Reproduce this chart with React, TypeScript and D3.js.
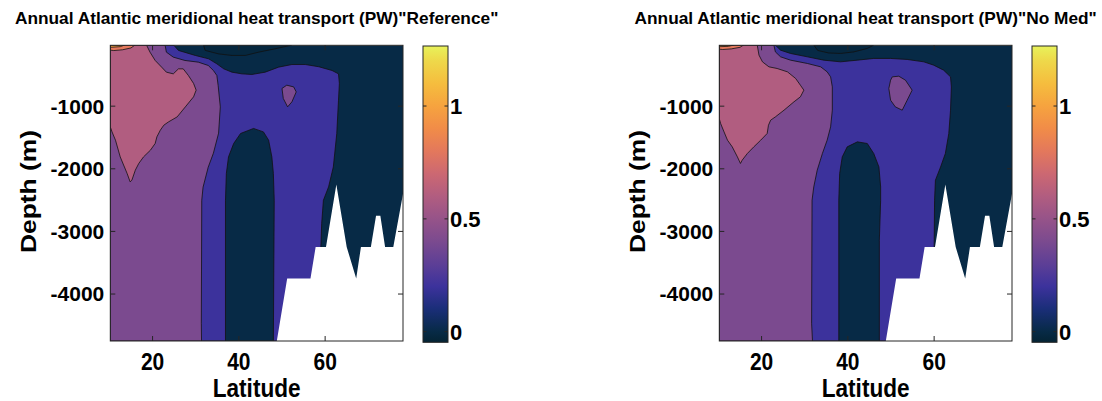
import React from 'react';
import * as d3 from 'd3';

type P = [number, number];

// ---- axis / label data ----
const latTicks = [20, 40, 60];
const depthTicks = [-1000, -2000, -3000, -4000];
const cbTicks = [0, 0.5, 1];
const cbTickLabels = ['0', '0.5', '1'];
const latDomain: P = [10.2, 78.05];
const depthDomain: P = [-4750, -28];
const cbDomain: P = [-0.047, 1.266];
const titles = [
  'Annual Atlantic meridional heat transport (PW)"Reference"',
  'Annual Atlantic meridional heat transport (PW)"No Med"',
];

// ---- colormap (value -> colour), thermal-like ----
const cmapValues = [-0.05, 0, 0.1, 0.2, 0.3, 0.4, 0.5, 0.6, 0.7, 0.8, 0.9, 1.0, 1.1, 1.2, 1.27];
const cmapColors = ['#042333', '#072a46', '#1a2e78', '#3c329c', '#5d3f96', '#7b4a8f', '#965389', '#b15d80', '#cc6872', '#e3785c', '#f18c48', '#f6a33f', '#f5bd3e', '#eed84a', '#e8f25a'];

// ---- contour region outlines (latitude, depth m) ----
// Reference run
const blueRef: P[] = [[10.2,-25],[24.9,-25],[26.0,-110],[29.9,-190],[33.0,-244],[34.9,-324],[36.5,-404],[38.4,-457],[40.7,-484],[43.0,-494],[46.1,-457],[49.2,-377],[52.3,-335],[55.4,-335],[58.5,-370],[61.6,-430],[63.1,-484],[63.3,-637],[63.1,-904],[62.7,-1436],[61.9,-1970],[60.8,-2289],[59.6,-2502],[59.2,-2874],[59.0,-3273],[59.0,-4750],[10.2,-4750]];
const purpleRef: P[] = [[10.2,-25],[22.9,-25],[23.2,-137],[24.8,-217],[27.5,-270],[30.6,-297],[32.9,-350],[34.1,-430],[34.9,-510],[35.2,-669],[35.7,-1011],[35.3,-1431],[34.1,-1751],[32.9,-1974],[31.7,-2294],[31.4,-2502],[31.3,-4466],[31.35,-4750],[10.2,-4750]];
const pinkRef: P[] = [[10.2,-25],[18.6,-25],[19.4,-137],[20.6,-270],[22.1,-377],[23.2,-457],[24.8,-484],[26.0,-404],[27.1,-404],[28.3,-510],[29.5,-637],[30.1,-744],[29.5,-851],[27.6,-1011],[25.7,-1171],[23.7,-1251],[22.6,-1304],[21.8,-1383],[21.0,-1490],[20.6,-1596],[19.5,-1703],[17.9,-1810],[16.8,-1915],[16.0,-2022],[15.2,-2182],[14.8,-2209],[14.1,-2075],[12.5,-1810],[11.4,-1543],[10.6,-1411],[10.2,-1331]];
const orangeRef: P[] = [[10.2,-25],[15.9,-25],[15.0,-70],[13.0,-100],[11.0,-112],[10.2,-105]];
const yellowRef: P[] = [[10.2,-25],[13.5,-25],[12.5,-50],[10.2,-60]];
const islandRef: P[] = [[50.0,-717],[51.1,-665],[52.7,-692],[53.3,-772],[52.3,-931],[51.3,-1011],[50.3,-877]];
const columnRef: P[] = [[36.9,-4750],[36.9,-2502],[37.1,-2075],[37.6,-1810],[38.8,-1596],[40.4,-1436],[43.4,-1356],[45.7,-1411],[46.9,-1543],[47.65,-1810],[48.0,-2075],[48.2,-2502],[48.0,-4750]];
const navyTopRef: P[] = [[31.8,-25],[32.2,-110],[35.3,-165],[38.4,-190],[41.5,-190],[44.6,-137],[48.4,-84],[52.3,-25]];

// No Med run
const blueNoMed: P[] = [[10.2,-25],[23.2,-25],[24.4,-106],[26.7,-158],[30.6,-212],[34.4,-265],[38.3,-292],[42.2,-265],[46.0,-238],[49.9,-238],[53.75,-254],[57.6,-292],[59.9,-345],[62.2,-425],[63.8,-532],[64.0,-692],[63.8,-1064],[63.4,-1436],[62.6,-1756],[61.5,-1970],[60.3,-2182],[60.1,-2502],[60.0,-3273],[60.0,-4750],[10.2,-4750]];
const purpleNoMed: P[] = [[10.2,-25],[22.85,-25],[23.2,-133],[24.4,-212],[26.7,-265],[30.6,-318],[33.7,-372],[35.2,-452],[36.0,-532],[36.4,-692],[36.4,-1064],[36.0,-1331],[35.2,-1543],[34.1,-1756],[32.9,-2022],[32.1,-2289],[31.7,-2502],[31.6,-4466],[31.8,-4750],[10.2,-4750]];
const pinkNoMed: P[] = [[10.2,-25],[19.0,-25],[19.4,-185],[20.2,-292],[21.7,-372],[23.6,-398],[26.0,-452],[27.9,-558],[29.0,-665],[29.8,-744],[29.0,-851],[27.5,-931],[25.2,-1064],[23.2,-1171],[22.1,-1224],[21.6,-1304],[21.3,-1436],[19.8,-1543],[18.2,-1650],[16.7,-1756],[15.5,-1863],[15.1,-1915],[14.4,-1810],[13.2,-1650],[12.1,-1543],[11.3,-1411],[10.5,-1276],[10.2,-1200]];
const orangeNoMed: P[] = [[10.2,-25],[15.8,-25],[15.0,-60],[13.0,-85],[11.0,-95],[10.2,-90]];
const yellowNoMed: P[] = [[10.2,-25],[13.5,-25],[12.3,-45],[10.2,-50]];
const islandNoMed: P[] = [[50.3,-532],[51.8,-521],[53.35,-585],[54.9,-744],[53.75,-904],[52.6,-1064],[51.0,-1011],[49.9,-904],[49.5,-717],[49.9,-585]];
const columnNoMed: P[] = [[37.9,-4750],[37.9,-2502],[38.1,-2075],[38.7,-1810],[39.85,-1650],[42.2,-1570],[44.5,-1596],[46.0,-1756],[47.2,-1970],[47.6,-2289],[47.6,-2502],[47.3,-3140],[47.3,-4750]];
const navyTopNoMed: P[] = [[32.1,-25],[33.0,-110],[35.5,-150],[38.3,-158],[41.4,-133],[44.5,-78],[46.0,-25]];

// bottom topography (masked, white)
const topography: P[] = [[48.8,-4750],[51.2,-3750],[56.6,-3750],[57.8,-3250],[60.2,-3250],[62.6,-2250],[65.0,-3250],[67.2,-3750],[68.3,-3250],[70.6,-3250],[71.8,-2750],[72.8,-2750],[73.9,-3250],[75.8,-3250],[78.05,-2400],[78.05,-4750]];

// contour levels of each region
const regionLevels = { blue: 0.2, purple: 0.4, pink: 0.6, orange: 0.8, yellow: 1.0, island: 0.4, column: 0.0, navyTop: -0.02, base: 0.0 };

const runs = [
  { blue: blueRef, purple: purpleRef, pink: pinkRef, orange: orangeRef, yellow: yellowRef, island: islandRef, column: columnRef, navyTop: navyTopRef },
  { blue: blueNoMed, purple: purpleNoMed, pink: pinkNoMed, orange: orangeNoMed, yellow: yellowNoMed, island: islandNoMed, column: columnNoMed, navyTop: navyTopNoMed },
];

const FONT = "'Liberation Sans', Arial, Helvetica, sans-serif";
const cmap = d3.scaleLinear<string>().domain(cmapValues).range(cmapColors).interpolate(d3.interpolateRgb).clamp(true);

function Panel({ idx, dx }: { idx: number; dx: number }) {
  const ax = { x0: 110.3 + dx, x1: 403 + dx, y0: 45.3, y1: 341 };
  const cb = { x0: 423 + dx, x1: 448 + dx, y0: 46, y1: 342.3 };
  const x = d3.scaleLinear().domain(latDomain).range([ax.x0, ax.x1]);
  const y = d3.scaleLinear().domain(depthDomain).range([ax.y1, ax.y0]);
  const cy = d3.scaleLinear().domain(cbDomain).range([cb.y1, cb.y0]);
  const line = d3.line<P>().x(d => x(d[0])).y(d => y(d[1]));
  const closed = (pts: P[]) => line(pts) + 'Z';
  const r = runs[idx];
  const clipId = `clip${idx}`;
  const gradId = `grad${idx}`;
  const stroke = { stroke: '#111', strokeWidth: 0.8, strokeLinejoin: 'round' as const };
  const layers: [P[], number][] = [
    [r.blue, regionLevels.blue],
    [r.purple, regionLevels.purple],
    [r.pink, regionLevels.pink],
    [r.orange, regionLevels.orange],
    [r.yellow, regionLevels.yellow],
    [r.island, regionLevels.island],
    [r.column, regionLevels.column],
  ];
  const cx = (ax.x0 + ax.x1) / 2;
  return (
    <g>
      <defs>
        <clipPath id={clipId}>
          <rect x={ax.x0} y={ax.y0} width={ax.x1 - ax.x0} height={ax.y1 - ax.y0} />
        </clipPath>
        <linearGradient id={gradId} x1="0" y1="1" x2="0" y2="0">
          {cmapValues.map((v, i) => (
            <stop key={i} offset={(v - cbDomain[0]) / (cbDomain[1] - cbDomain[0])} stopColor={cmapColors[i]} />
          ))}
        </linearGradient>
      </defs>
      <text x={cx} y={24.3} textAnchor="middle" fontFamily={FONT} fontWeight="bold" fontSize={17.3} fill="#000">{titles[idx]}</text>
      <g clipPath={`url(#${clipId})`}>
        <rect x={ax.x0} y={ax.y0} width={ax.x1 - ax.x0} height={ax.y1 - ax.y0} fill={cmap(regionLevels.base)} />
        <path d={line(r.navyTop) || ''} fill={cmap(regionLevels.navyTop)} {...stroke} />
        {layers.map(([pts, lev], i) => (
          <path key={i} d={closed(pts)} fill={cmap(lev)} {...stroke} />
        ))}
        <path d={closed(topography)} fill="#fff" stroke="none" />
      </g>
      {/* axes frame */}
      <rect x={ax.x0} y={ax.y0} width={ax.x1 - ax.x0} height={ax.y1 - ax.y0} fill="none" stroke="#262626" strokeWidth={1} />
      {latTicks.map(t => (
        <g key={t}>
          <line x1={x(t)} x2={x(t)} y1={ax.y1} y2={ax.y1 - 5} stroke="#262626" />
          <line x1={x(t)} x2={x(t)} y1={ax.y0} y2={ax.y0 + 5} stroke="#262626" />
          <text transform={`translate(${x(t)},369.5) scale(1,1.12)`} textAnchor="middle" fontFamily={FONT} fontWeight="bold" fontSize={21} fill="#000">{t}</text>
        </g>
      ))}
      {depthTicks.map(t => (
        <g key={t}>
          <line x1={ax.x0} x2={ax.x0 + 5} y1={y(t)} y2={y(t)} stroke="#262626" />
          <line x1={ax.x1} x2={ax.x1 - 5} y1={y(t)} y2={y(t)} stroke="#262626" />
          <text x={ax.x0 - 6} y={y(t) + 7.4} textAnchor="end" fontFamily={FONT} fontWeight="bold" fontSize={21} fill="#000">{t}</text>
        </g>
      ))}
      <text transform={`translate(${cx},397) scale(1,1.15)`} textAnchor="middle" fontFamily={FONT} fontWeight="bold" fontSize={22.6} fill="#000">Latitude</text>
      <text transform={`translate(${35.8 + dx},${191.5}) rotate(-90) scale(1.2,1)`} textAnchor="middle" fontFamily={FONT} fontWeight="bold" fontSize={22} fill="#000">Depth (m)</text>
      {/* colorbar */}
      <rect x={cb.x0} y={cb.y0} width={cb.x1 - cb.x0} height={cb.y1 - cb.y0} fill={`url(#${gradId})`} stroke="#262626" strokeWidth={1} />
      {cbTicks.map((t, i) => (
        <g key={t}>
          <line x1={cb.x0} x2={cb.x0 + 3.5} y1={cy(t)} y2={cy(t)} stroke="#262626" />
          <line x1={cb.x1} x2={cb.x1 - 3.5} y1={cy(t)} y2={cy(t)} stroke="#262626" />
          <text x={cb.x1 + 2} y={cy(t) + 7.9} fontFamily={FONT} fontWeight="bold" fontSize={22} fill="#000">{cbTickLabels[i]}</text>
        </g>
      ))}
    </g>
  );
}

export default function App() {
  return (
    <svg width={1102} height={401} viewBox="0 0 1102 401" style={{ position: 'absolute', left: 0, top: 0, background: '#fff' }}>
      <rect x={0} y={0} width={1102} height={401} fill="#fff" />
      <Panel idx={0} dx={0} />
      <Panel idx={1} dx={609} />
    </svg>
  );
}
